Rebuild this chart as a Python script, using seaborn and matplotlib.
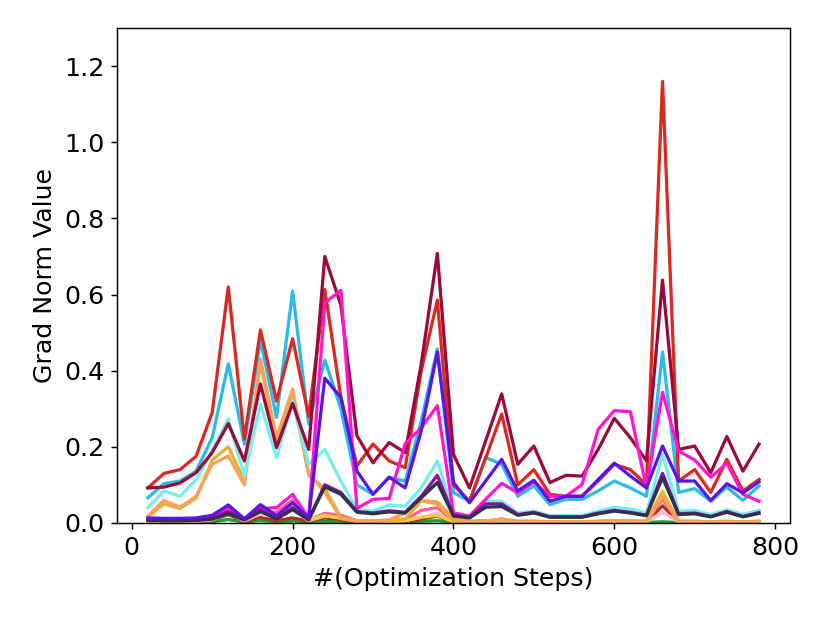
import pandas as pd
import matplotlib
matplotlib.use('Agg')
import matplotlib.pyplot as plt
import seaborn as sns

# Optimization steps
steps = list(range(20, 800, 20))

# Grad norm per layer
green = [0.002, 0.002, 0.002, 0.002, 0.003, 0.009, 0.002, 0.006, 0.003, 0.005, 0.002, 0.004, 0.003, 0.002, 0.001,
         0.002, 0.002, 0.004, 0.006, 0.001, 0.001, 0.002, 0.002, 0.001, 0.001, 0.001, 0.001, 0.001, 0.001, 0.002,
         0.001, 0.001, 0.003, 0.001, 0.001, 0.001, 0.001, 0.001, 0.001]
darkred = [0.003, 0.003, 0.003, 0.004, 0.007, 0.022, 0.004, 0.014, 0.006, 0.013, 0.005, 0.013, 0.009, 0.003, 0.002,
           0.003, 0.003, 0.01, 0.018, 0.002, 0.002, 0.003, 0.01, 0.002, 0.002, 0.002, 0.002, 0.002, 0.002, 0.003,
           0.003, 0.002, 0.045, 0.002, 0.002, 0.002, 0.003, 0.002, 0.002]
lightpink = [0.004, 0.003, 0.003, 0.004, 0.008, 0.026, 0.005, 0.024, 0.02, 0.035, 0.006, 0.018, 0.014, 0.005, 0.004,
             0.005, 0.006, 0.015, 0.025, 0.004, 0.003, 0.004, 0.006, 0.003, 0.003, 0.003, 0.003, 0.003, 0.003, 0.004,
             0.004, 0.003, 0.028, 0.003, 0.003, 0.003, 0.003, 0.003, 0.003]
hotpink = [0.005, 0.004, 0.004, 0.005, 0.01, 0.035, 0.006, 0.03, 0.028, 0.06, 0.008, 0.025, 0.02, 0.006, 0.005,
           0.006, 0.008, 0.033, 0.04, 0.006, 0.004, 0.005, 0.008, 0.004, 0.004, 0.003, 0.003, 0.003, 0.004, 0.005,
           0.004, 0.004, 0.062, 0.004, 0.004, 0.003, 0.004, 0.003, 0.004]
yellow = [0.006, 0.005, 0.005, 0.006, 0.012, 0.035, 0.007, 0.03, 0.02, 0.048, 0.009, 0.02, 0.012, 0.004, 0.004,
          0.004, 0.006, 0.015, 0.02, 0.003, 0.003, 0.004, 0.006, 0.003, 0.003, 0.003, 0.003, 0.003, 0.003, 0.004,
          0.004, 0.003, 0.085, 0.003, 0.003, 0.003, 0.003, 0.003, 0.003]
gold = [0.015, 0.05, 0.038, 0.065, 0.165, 0.2, 0.11, 0.42, 0.21, 0.33, 0.13, 0.08, 0.012, 0.005, 0.004,
        0.007, 0.01, 0.058, 0.05, 0.005, 0.004, 0.005, 0.009, 0.004, 0.004, 0.003, 0.003, 0.003, 0.004, 0.005,
        0.005, 0.004, 0.079, 0.004, 0.004, 0.003, 0.004, 0.003, 0.004]
orange = [0.018, 0.059, 0.041, 0.07, 0.154, 0.176, 0.1, 0.431, 0.224, 0.352, 0.125, 0.09, 0.015, 0.006, 0.005,
          0.008, 0.026, 0.059, 0.055, 0.013, 0.004, 0.005, 0.01, 0.004, 0.004, 0.003, 0.003, 0.003, 0.004, 0.006,
          0.005, 0.004, 0.07, 0.004, 0.004, 0.003, 0.004, 0.003, 0.004]
turquoise = [0.04, 0.084, 0.07, 0.114, 0.189, 0.273, 0.123, 0.312, 0.172, 0.32, 0.154, 0.193, 0.11, 0.035, 0.031,
             0.047, 0.044, 0.092, 0.163, 0.026, 0.018, 0.057, 0.057, 0.026, 0.031, 0.019, 0.019, 0.019, 0.031, 0.041,
             0.037, 0.026, 0.18, 0.031, 0.033, 0.022, 0.035, 0.022, 0.033]
skyblue = [0.066, 0.103, 0.11, 0.136, 0.224, 0.418, 0.207, 0.48, 0.277, 0.609, 0.26, 0.428, 0.30, 0.1, 0.075,
           0.12, 0.11, 0.268, 0.457, 0.08, 0.057, 0.172, 0.154, 0.07, 0.097, 0.048, 0.062, 0.062, 0.084, 0.11,
           0.092, 0.07, 0.449, 0.08, 0.09, 0.057, 0.094, 0.059, 0.097]
red = [0.092, 0.13, 0.14, 0.175, 0.29, 0.62, 0.22, 0.507, 0.32, 0.484, 0.28, 0.613, 0.33, 0.15, 0.207,
       0.163, 0.145, 0.40, 0.585, 0.10, 0.057, 0.17, 0.286, 0.10, 0.14, 0.075, 0.07, 0.07, 0.11, 0.154,
       0.14, 0.10, 1.16, 0.11, 0.14, 0.08, 0.167, 0.084, 0.114]
crimson = [0.092, 0.094, 0.105, 0.132, 0.185, 0.261, 0.163, 0.365, 0.198, 0.314, 0.193, 0.70, 0.572, 0.229, 0.158,
           0.211, 0.185, 0.418, 0.708, 0.18, 0.092, 0.215, 0.339, 0.154, 0.202, 0.106, 0.125, 0.123, 0.193, 0.275,
           0.224, 0.163, 0.638, 0.193, 0.202, 0.132, 0.227, 0.136, 0.207]
magenta = [0.008, 0.006, 0.006, 0.007, 0.012, 0.041, 0.009, 0.038, 0.04, 0.075, 0.013, 0.578, 0.611, 0.038, 0.062,
           0.064, 0.208, 0.25, 0.308, 0.026, 0.018, 0.062, 0.104, 0.079, 0.108, 0.07, 0.07, 0.101, 0.246, 0.295,
           0.292, 0.092, 0.343, 0.189, 0.165, 0.12, 0.157, 0.075, 0.057]
purple = [0.008, 0.007, 0.007, 0.008, 0.012, 0.03, 0.009, 0.035, 0.012, 0.04, 0.009, 0.1, 0.08, 0.03, 0.026,
          0.032, 0.028, 0.07, 0.125, 0.02, 0.015, 0.05, 0.05, 0.022, 0.028, 0.016, 0.016, 0.016, 0.026, 0.033,
          0.028, 0.02, 0.13, 0.024, 0.026, 0.017, 0.03, 0.017, 0.027]
darkslate = [0.007, 0.006, 0.006, 0.007, 0.01, 0.024, 0.008, 0.03, 0.01, 0.035, 0.008, 0.095, 0.075, 0.028, 0.024,
             0.029, 0.026, 0.066, 0.106, 0.018, 0.013, 0.041, 0.043, 0.02, 0.026, 0.015, 0.015, 0.015, 0.024, 0.031,
             0.026, 0.019, 0.119, 0.022, 0.024, 0.016, 0.028, 0.016, 0.025]
blueviolet = [0.013, 0.012, 0.012, 0.013, 0.02, 0.047, 0.011, 0.048, 0.019, 0.053, 0.013, 0.38, 0.33, 0.136, 0.075,
              0.12, 0.092, 0.242, 0.449, 0.106, 0.053, 0.11, 0.167, 0.084, 0.112, 0.057, 0.07, 0.07, 0.114, 0.157,
              0.123, 0.092, 0.202, 0.11, 0.11, 0.059, 0.103, 0.079, 0.108]

layers = {
    'green': green, 'darkred': darkred, 'lightpink': lightpink, 'hotpink': hotpink,
    'yellow': yellow, 'gold': gold, 'orange': orange, 'turquoise': turquoise,
    'skyblue': skyblue, 'red': red, 'crimson': crimson, 'magenta': magenta,
    'purple': purple, 'darkslate': darkslate, 'blueviolet': blueviolet,
}
colors = {
    'green': '#1e9e3e', 'darkred': '#b0301e', 'lightpink': '#f7b8cf', 'hotpink': '#ff5f8f',
    'yellow': '#f0d040', 'gold': '#e8b030', 'orange': '#f7a15b', 'turquoise': '#72f0ea',
    'skyblue': '#2bbbe8', 'red': '#d62a22', 'crimson': '#9b0a3c', 'magenta': '#ff17d0',
    'purple': '#8e0fa8', 'darkslate': '#2f3349', 'blueviolet': '#5c14e6',
}

rows = []
for name, vals in layers.items():
    for s, v in zip(steps, vals):
        rows.append({'step': s, 'grad': v, 'layer': name})
df = pd.DataFrame(rows)

plt.rcParams['font.size'] = 14

fig, ax = plt.subplots(figsize=(6.4, 4.8), dpi=130)
sns.lineplot(data=df, x='step', y='grad', hue='layer', hue_order=list(layers.keys()),
             palette=colors, estimator=None, linewidth=1.8, legend=False, ax=ax)
ax.set_ylim(0, 1.3)
ax.set_xticks([0, 200, 400, 600, 800])
ax.set_yticks([0.0, 0.2, 0.4, 0.6, 0.8, 1.0, 1.2])
ax.tick_params(labelsize=14)
ax.set_xlabel('#(Optimization Steps)', fontsize=14)
ax.set_ylabel('Grad Norm Value', fontsize=14)
fig.subplots_adjust(left=0.141, right=0.949, top=0.955, bottom=0.162)
fig.savefig('out.png', dpi=130)
